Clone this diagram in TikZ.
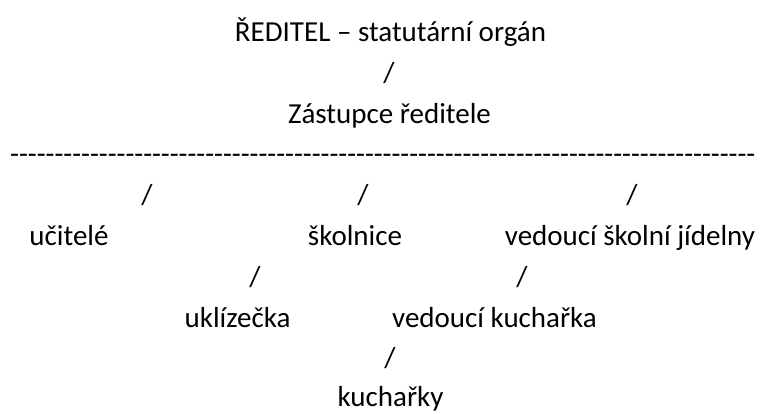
\documentclass[tikz,border=0pt]{standalone}
\usepackage{fontspec}
\setmainfont{Carlito}
\tikzset{
  lbl/.style ={font=\fontsize{29}{35}\selectfont, inner sep=0pt, anchor=base},
  sl/.style  ={lbl},
}

\begin{document}
\begin{tikzpicture}[x=1pt, y=-1pt]
  \useasboundingbox (0,0) rectangle (760,414);
  \node[lbl] (dir)  at (390.5,42)   {ŘEDITEL – statutární orgán};
  \node[sl]  (s1)   at (389,82.7)   {/};
  \node[lbl] (zast) at (389.5,123.4) {Zástupce ředitele};
  % dashed row
  \foreach \k in {0,...,83}
    \node[lbl, anchor=base west] (d\k) at ({10+\k*8.87},164) {-};
  \node[sl]  (s2)   at (147,204.8)  {/};
  \node[sl]  (s3)   at (363,204.8)  {/};
  \node[sl]  (s4)   at (632,204.8)  {/};
  \node[lbl] (uc)   at (69,245.5)   {učitelé};
  \node[lbl] (sk)   at (355,245.5)  {školnice};
  \node[lbl] (vsj)  at (630,245.5)  {vedoucí školní jídelny};
  \node[sl]  (s5)   at (255,286.2)  {/};
  \node[sl]  (s6)   at (522,286.2)  {/};
  \node[lbl] (ukl)  at (237.5,327)  {uklízečka};
  \node[lbl] (vk)   at (494.5,327)  {vedoucí kuchařka};
  \node[sl]  (s7)   at (390,367.6)  {/};
  \node[lbl] (ku)   at (390.5,406) {kuchařky};
\end{tikzpicture}
\end{document}
